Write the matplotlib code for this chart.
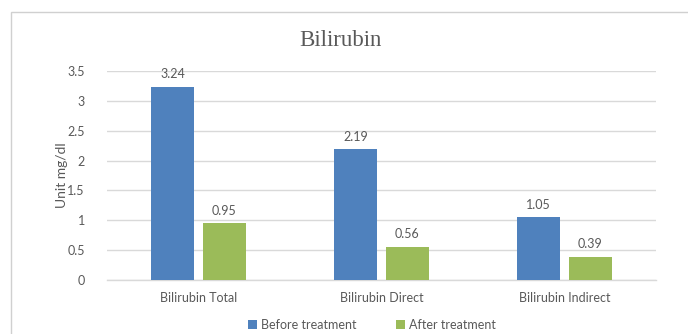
#!/usr/bin/env python3
"""Bilirubin before / after treatment - grouped bar chart."""
import numpy as np
import matplotlib
matplotlib.use('Agg')
import matplotlib.pyplot as plt
from matplotlib.patches import Rectangle

#-------------------------------------------------------------------------#
# Data                                                                    #
#-------------------------------------------------------------------------#
categories  = ['Bilirubin Total', 'Bilirubin Direct', 'Bilirubin Indirect']
before      = [3.24, 2.19, 1.05]
after       = [0.95, 0.56, 0.39]
series      = ['Before treatment', 'After treatment']
yticks      = [0, 0.5, 1, 1.5, 2, 2.5, 3, 3.5]

#-------------------------------------------------------------------------#
# Style                                                                   #
#-------------------------------------------------------------------------#
c_blue      = '#4F81BD'
c_green     = '#9BBB59'
c_text      = '#595959'
c_grid      = '#D9D9D9'
plt.rcParams['font.family'] = ['Lato', 'DejaVu Sans']

W, H        = 688, 334
fig         = plt.figure(figsize=(W/100, H/100), dpi=100)
ax          = fig.add_axes([107/W, 1 - 280/H, (656 - 107)/W, (280 - 71)/H])

# outer chart border (cut off at right/bottom)
fig.patches.append(Rectangle((11/W, -0.1), 1.2, 1 - 12/H + 0.1,
                             transform=fig.transFigure, fill=False,
                             edgecolor='#D0D0D0', linewidth=1.0))

#-------------------------------------------------------------------------#
# Bars                                                                    #
#-------------------------------------------------------------------------#
x           = np.arange(len(categories))
bw          = 0.23
off         = 0.142
b1 = ax.bar(x - off, before, bw, color=c_blue, label=series[0], zorder=3)
b2 = ax.bar(x + off, after, bw, color=c_green, label=series[1], zorder=3)
for bars in (b1, b2):
    for r in bars:
        ax.text(r.get_x() + r.get_width()/2, r.get_height() + 0.11,
                '%.2f' % r.get_height(), ha='center', va='bottom',
                fontsize=9, color=c_text)

ax.set_xlim(-0.5, 2.5)
ax.set_ylim(0, 3.5)
ax.set_yticks(yticks)
ax.set_yticklabels(['%g' % t for t in yticks])
ax.set_xticks(x)
ax.set_xticklabels(categories)
ax.tick_params(axis='both', length=0, labelsize=9, colors=c_text)
ax.tick_params(axis='y', pad=16)
ax.tick_params(axis='x', pad=9)
ax.grid(axis='y', color=c_grid, linewidth=1.0, zorder=0)
for s in ('top', 'right', 'left'):
    ax.spines[s].set_visible(False)
ax.spines['bottom'].set_color(c_grid)
ax.spines['bottom'].set_linewidth(1.0)

ax.set_ylabel('Unit mg/dl', fontsize=10, color=c_text, va='center')
ax.yaxis.set_label_coords((62 - 107)/549, 0.5)
fig.text(340/W, 1 - 40/H, 'Bilirubin', ha='center', va='center',
         fontsize=16.5, color=c_text, family=['Liberation Serif', 'DejaVu Serif'])

leg = fig.legend(handles=[b1, b2], labels=series, loc='center',
                 bbox_to_anchor=(372/W, 1 - 325/H), ncol=2, frameon=False,
                 fontsize=9, handlelength=0.7, handleheight=0.7,
                 handletextpad=0.3, columnspacing=3.2)
for t in leg.get_texts():
    t.set_color(c_text)

fig.savefig('out.png', dpi=100, facecolor='white')
